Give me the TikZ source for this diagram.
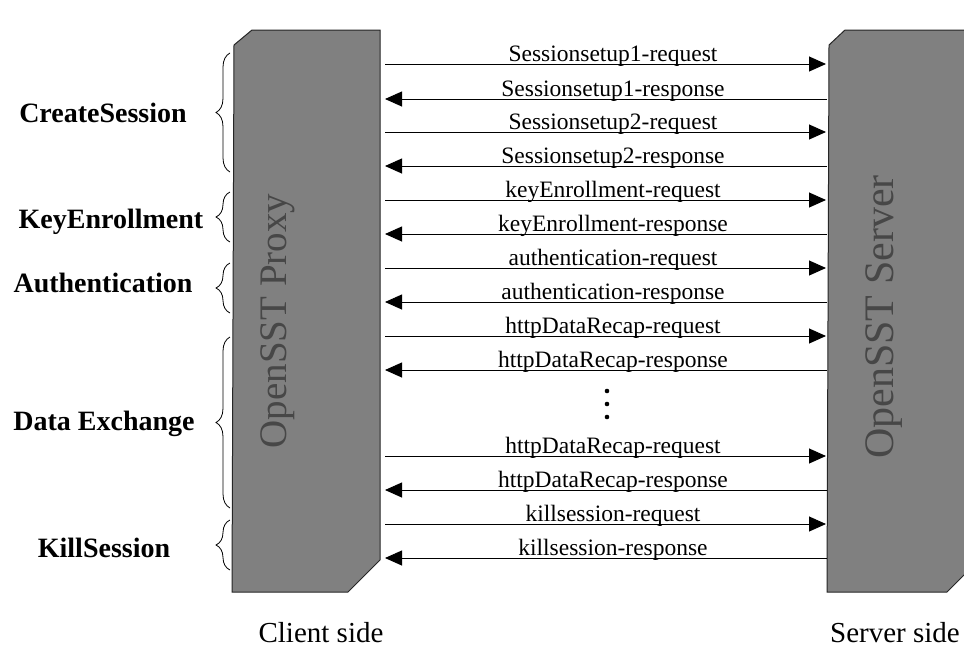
\documentclass[tikz,border=0pt]{standalone}
\usepackage{fontspec}
\setmainfont{Liberation Serif}
\usetikzlibrary{arrows.meta,decorations.pathreplacing}
\begin{document}
\begin{tikzpicture}[x=1pt,y=-1pt,
  pillar/.style={fill=black!50,draw=black!85,line width=1pt},
  pillartext/.style={rotate=90,text=black!72,inner sep=0pt},
  msg/.style={-{Triangle[length=17pt,width=15pt]},line width=0.9pt},
  msglabel/.style={anchor=base,font=\fontsize{23.5}{24}\selectfont,inner sep=0pt},
  phase/.style={anchor=base,font=\fontsize{28}{28}\selectfont\bfseries,inner sep=0pt},
  side/.style={anchor=base,font=\fontsize{29}{29}\selectfont,inner sep=0pt},
  phasebrace/.style={decorate,decoration={brace,amplitude=14pt},line width=0.8pt}]
\useasboundingbox (0,0) rectangle (964,651);
% pillars
\draw[pillar] (234,45) -- (252,30) -- (380,30) -- (380,560) -- (348,592) -- (232,592) -- cycle;
\draw[pillar] (829,45) -- (845,30) -- (966,30) -- (966,573) -- (947,592) -- (827,592) -- cycle;
\node[pillartext,font=\fontsize{39}{39}\selectfont] (proxy) at (278,321) {OpenSST Proxy};
\node[pillartext,font=\fontsize{42}{42}\selectfont] (server) at (884,317) {OpenSST Server};
% requests
\foreach \i/\y/\t in {1/64/{Sessionsetup1-request},3/132/{Sessionsetup2-request},5/200/{keyEnrollment-request},7/268/{authentication-request},9/336/{httpDataRecap-request},11/456/{httpDataRecap-request},13/524/{killsession-request}}{
  \coordinate (cl\i) at (385,\y);
  \coordinate (sr\i) at (826,\y);
  \draw[msg] (cl\i) -- (sr\i);
  \node[msglabel] (m\i) at (613,{\y-3}) {\t};
}
% responses
\foreach \i/\y/\t in {2/99/{Sessionsetup1-response},4/166/{Sessionsetup2-response},6/234/{keyEnrollment-response},8/302/{authentication-response},10/370/{httpDataRecap-response},12/490/{httpDataRecap-response},14/558/{killsession-response}}{
  \coordinate (cl\i) at (385,\y);
  \coordinate (sr\i) at (827,\y);
  \draw[msg] (sr\i) -- (cl\i);
  \node[msglabel] (m\i) at (613,{\y-3}) {\t};
}
% dots
\foreach \y in {391,404,417}{\fill (607,\y) circle (2.3);}
% braces
\draw[phasebrace] (230,172) -- (230,53);
\draw[phasebrace] (230,242) -- (230,192);
\draw[phasebrace] (230,313) -- (230,263);
\draw[phasebrace] (230,508) -- (230,337);
\draw[phasebrace] (230,570) -- (230,520);
% phase labels
\node[phase] (p1) at (103,122) {CreateSession};
\node[phase] (p2) at (111,228) {KeyEnrollment};
\node[phase] (p3) at (103,292) {Authentication};
\node[phase] (p4) at (104,430) {Data Exchange};
\node[phase] (p5) at (104,557) {KillSession};
% sides
\node[side] (cs) at (321,642) {Client side};
\node[side] (ss) at (895,642) {Server side};
\end{tikzpicture}
\end{document}
